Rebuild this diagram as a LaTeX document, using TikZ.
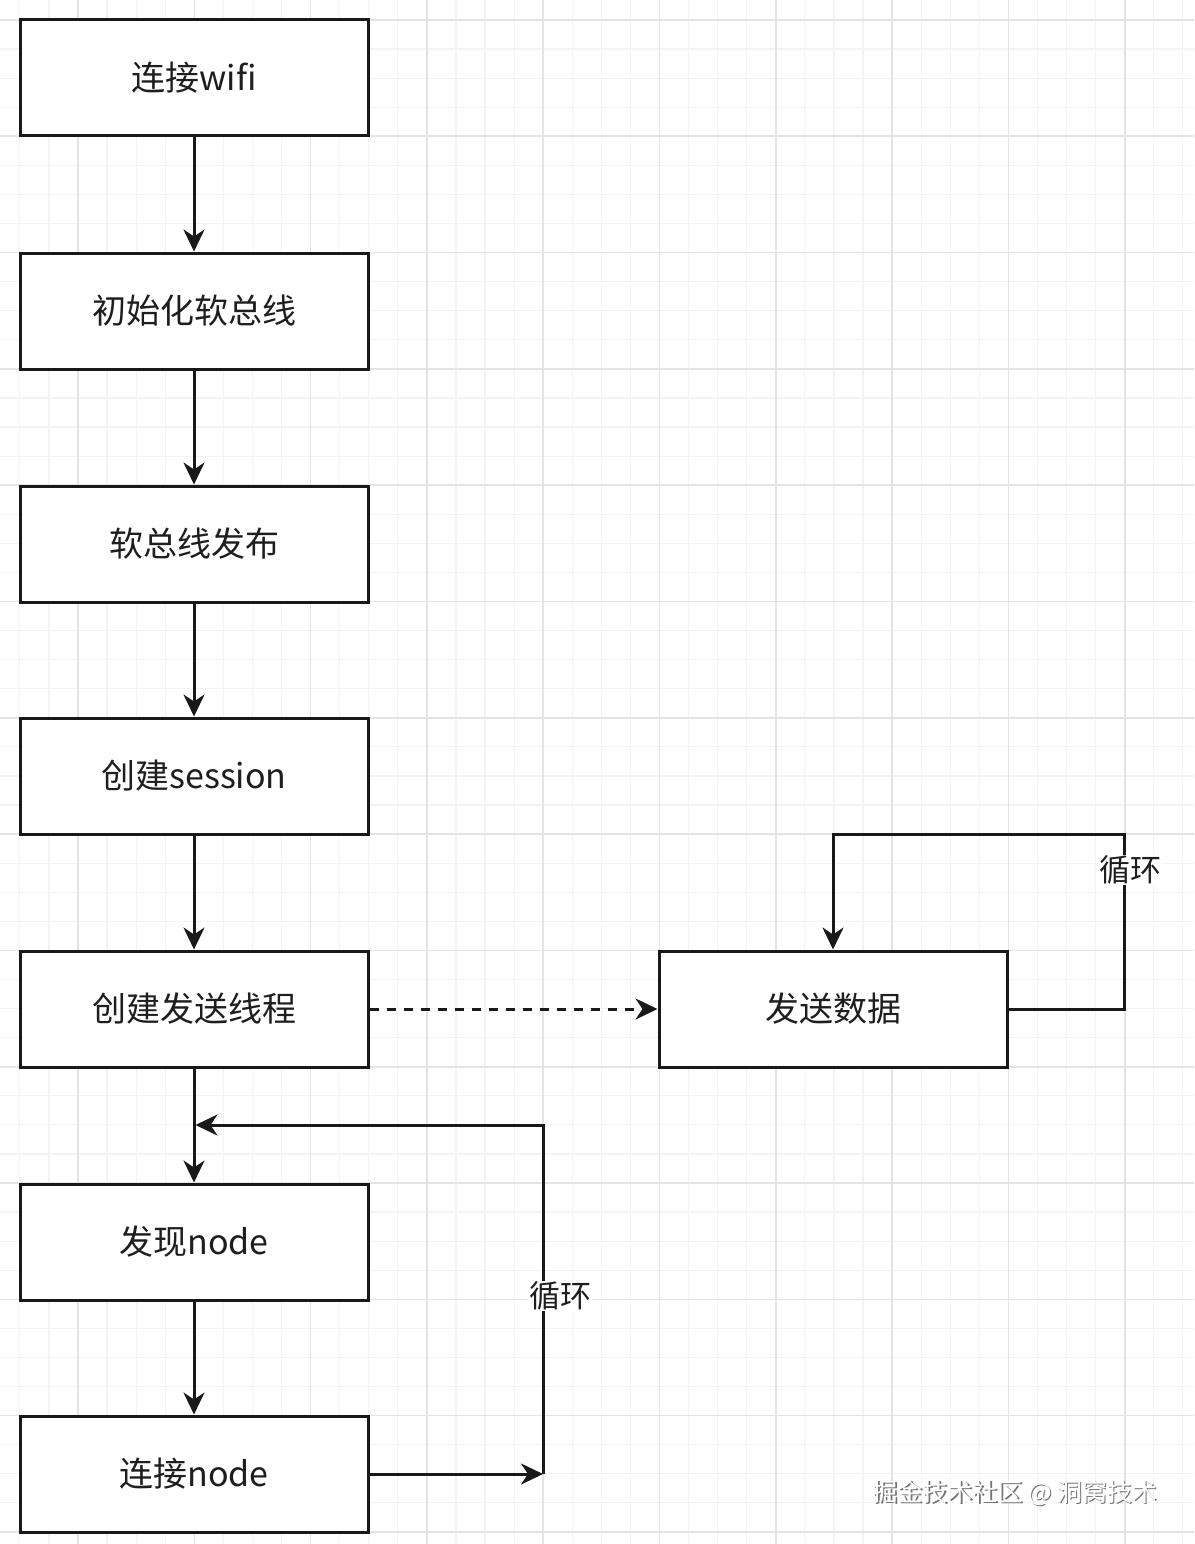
\documentclass[tikz,border=0pt]{standalone}
\usepackage{fontspec}
\setmainfont{Noto Sans CJK SC}
\usetikzlibrary{arrows.meta}
\definecolor{gridmajor}{HTML}{E4E4E4}
\definecolor{gridminor}{HTML}{F4F4F4}
\definecolor{txt}{HTML}{1E1E1E}
\tikzset{
  stepbox/.style={draw=black!90, line width=3pt, fill=white, minimum width=348pt, minimum height=116pt, inner sep=0pt, text=txt, font=\fontsize{34pt}{40pt}\selectfont},
  conn/.style={draw=black!90, line width=3pt},
  arr/.style={conn, -{Stealth[length=22pt,width=21pt,inset=7pt]}},
  lbl/.style={fill=white, inner sep=1pt, text=txt, font=\fontsize{31pt}{36pt}\selectfont},
  majorline/.style={draw=gridmajor, line width=1.6pt},
  minorline/.style={draw=gridminor, line width=1.2pt}
}
\begin{document}
\begin{tikzpicture}[x=1pt,y=-1pt]
\useasboundingbox (0,0) rectangle (1194,1544);
\fill[white] (0,0) rectangle (1194,1544);
\begin{scope}
\clip (0,0) rectangle (1194,1544);
\foreach \k in {-3,...,42} \draw[minorline] ({78+\k*29.075},0) -- ({78+\k*29.075},1544);
\foreach \k in {-1,...,53} \draw[minorline] (0,{20+\k*29.075}) -- (1194,{20+\k*29.075});
\foreach \k in {0,...,9} \draw[majorline] ({78+\k*116.3},0) -- ({78+\k*116.3},1544);
\foreach \k in {0,...,13} \draw[majorline] (0,{20+\k*116.3}) -- (1194,{20+\k*116.3});
\end{scope}

\node[stepbox] (wifi)   at (194,78)   {连接wifi};
\node[stepbox] (init)   at (194,311)  {初始化软总线};
\node[stepbox] (pub)    at (194,544)  {软总线发布};
\node[stepbox] (sess)   at (194,776)  {创建session};
\node[stepbox] (thread) at (194,1009) {创建发送线程};
\node[stepbox] (find)   at (194,1242) {发现node};
\node[stepbox] (link)   at (194,1474) {连接node};
\node[stepbox] (send)   at (833,1009) {发送数据};

\draw[arr] (wifi) -- (init);
\draw[arr] (init) -- (pub);
\draw[arr] (pub) -- (sess);
\draw[arr] (sess) -- (thread);
\draw[arr] (thread) -- (find);
\draw[arr] (find) -- (link);
\draw[arr, dash pattern=on 9pt off 8pt] (thread.east) -- (send.west);

\coordinate (topr) at (1124,834);
\draw[arr] (send.east) -| (topr) -| (send.north);
\node[lbl] (loopa) at (1130,870) {循环};

\coordinate (botr) at (543,1474);
\coordinate (midr) at (543,1125);
\coordinate (midl) at (195.5,1125);
\draw[arr] (link.east) -- (botr);
\draw[arr] (botr) -- (midr) -- (midl);
\node[lbl] (loopb) at (560,1296) {循环};

\node[text=black!55, font=\fontsize{25pt}{30pt}\selectfont] (wmshadow) at (1016.5,1494.5) {掘金技术社区 @ 洞窝技术};
\node[text=white, font=\fontsize{25pt}{30pt}\selectfont] (wm) at (1015,1493) {掘金技术社区 @ 洞窝技术};
\end{tikzpicture}
\end{document}
